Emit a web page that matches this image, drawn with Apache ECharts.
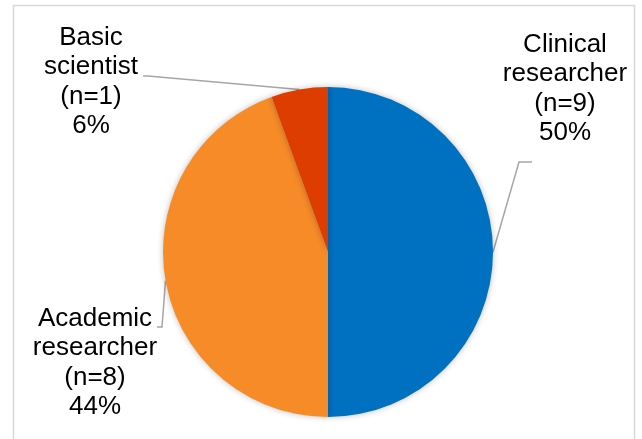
<!DOCTYPE html>
<html>
<head>
<meta charset="utf-8">
<script src="https://cdn.jsdelivr.net/npm/echarts@6/dist/echarts.min.js"></script>
<style>
html,body{margin:0;padding:0;background:#fff;}
#chart{width:642px;height:439px;}
</style>
</head>
<body>
<div id="chart"></div>
<script>
var categories = ['Clinical\nresearcher', 'Academic\nresearcher', 'Basic\nscientist'];
var counts = [9, 8, 1];
var colors = ['#0070C0', '#F68B28', '#DD3D00'];

// label placement (centre of each label block) and leader-line offsets relative to it
var labelCenters = [[565, 89], [95, 363], [91, 82]];
var elbowOffsets = [[[-46, 73], [-33, 73]], [[67, -36], [62, -36]], [[57, -6], [52, -6]]];

var chart = echarts.init(document.getElementById('chart'), null, {renderer: 'canvas'});

var data = categories.map(function (c, i) {
  return {name: c, value: counts[i], itemStyle: {color: colors[i]}};
});

chart.setOption({
  animation: false,
  backgroundColor: '#ffffff',
  graphic: [{
    type: 'rect',
    shape: {x: 13.5, y: 5.5, width: 621, height: 520},
    style: {fill: 'none', stroke: '#D9D9D9', lineWidth: 1.5},
    silent: true,
    z: -1
  }],
  series: [{
    type: 'pie',
    center: [328, 252],
    radius: 165,
    startAngle: 90,
    clockwise: true,
    percentPrecision: 0,
    avoidLabelOverlap: false,
    data: data,
    itemStyle: {
      borderWidth: 0,
      shadowBlur: 6,
      shadowColor: 'rgba(0,0,0,0.25)'
    },
    label: {
      show: true,
      position: 'outside',
      formatter: function (p) {
        return p.name + '\n(n=' + p.value + ')\n' + Math.round(p.percent) + '%';
      },
      fontFamily: 'Arial, "Liberation Sans", sans-serif',
      fontSize: 26,
      lineHeight: 29.5,
      color: '#000000',
      align: 'center'
    },
    labelLine: {
      show: true,
      smooth: false,
      length: 20,
      length2: 10,
      lineStyle: {color: '#A6A6A6', width: 1.5}
    },
    labelLayout: function (params) {
      var i = params.dataIndex;
      var c = labelCenters[i];
      var o = elbowOffsets[i];
      var start = params.labelLinePoints ? params.labelLinePoints[0] : c;
      return {
        x: c[0],
        y: c[1],
        align: 'center',
        verticalAlign: 'middle',
        labelLinePoints: [
          start,
          [c[0] + o[0][0], c[1] + o[0][1]],
          [c[0] + o[1][0], c[1] + o[1][1]]
        ]
      };
    }
  }]
});
</script>
</body>
</html>
